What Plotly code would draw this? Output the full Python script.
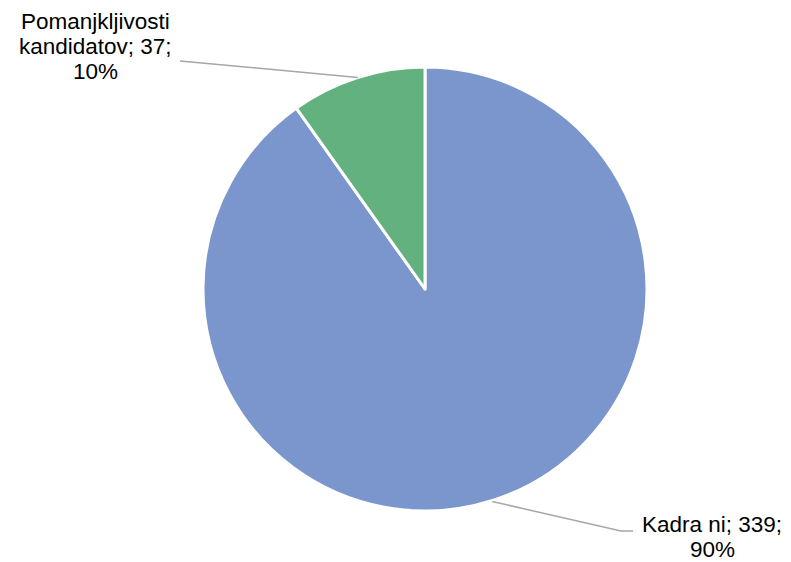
import math
import plotly.graph_objects as go

labels = ["Kadra ni", "Pomanjkljivosti kandidatov"]
values = [339, 37]
percent_text = ["90%", "10%"]
colors = ["#7A96CC", "#62B17F"]

# page body has an 8px margin; size the figure to fit the 791x562 window
OFF = 8
W, H = 791 - OFF, 562 - OFF
cx, cy, r = 425, 289, 222  # pie centre / radius in window pixels

def px(x):
    return (x - OFF) / W

def py(y):
    return 1 - (y - OFF) / H

fig = go.Figure(go.Pie(
    labels=labels, values=values, sort=False, direction="clockwise", rotation=0,
    marker=dict(colors=colors, line=dict(color="white", width=3)),
    textinfo="none", hoverinfo="label+value+percent", showlegend=False,
    domain=dict(x=[px(cx - r), px(cx + r)], y=[py(cy + r), py(cy - r)]),
))

# leader-line anchors at each slice's mid-angle
total = sum(values)
anchors = []
acc = 0
for v in values:
    mid = (acc + v / 2) / total * 2 * math.pi
    anchors.append((cx + 221 * math.sin(mid), cy - 221 * math.cos(mid)))
    acc += v

line_style = dict(color="#A6A6A6", width=1.5)
shapes = []
ax0, ay0 = anchors[0]
shapes.append(dict(type="path", xref="paper", yref="paper",
                   path=f"M {px(ax0)},{py(ay0 + 2)} L {px(621)},{py(531)} L {px(633)},{py(531)}",
                   line=line_style))
ax1, ay1 = anchors[1]
shapes.append(dict(type="path", xref="paper", yref="paper",
                   path=f"M {px(ax1)},{py(ay1 - 1)} L {px(180)},{py(61)}",
                   line=line_style))

font = dict(family="Liberation Sans, Arial, sans-serif", size=22.5, color="black")

def line_ann(text, x, y):
    return dict(x=px(x), y=py(y), xref="paper", yref="paper", showarrow=False,
                text=text, font=font, xanchor="center", yanchor="middle",
                borderpad=0)

top_lines = ["Pomanjkljivosti", f"kandidatov; {values[1]};", percent_text[1]]
bot_lines = [f"{labels[0]}; {values[0]};", percent_text[0]]
annotations = []
for i, t in enumerate(top_lines):
    annotations.append(line_ann(t, 95, 21 + 25.2 * i))
for i, t in enumerate(bot_lines):
    annotations.append(line_ann(t, 712, 524 + 25.2 * i))

fig.update_layout(
    width=W, height=H, margin=dict(l=0, r=0, t=0, b=0),
    paper_bgcolor="white", plot_bgcolor="white",
    shapes=shapes, annotations=annotations,
)
fig.write_html("out.html")
